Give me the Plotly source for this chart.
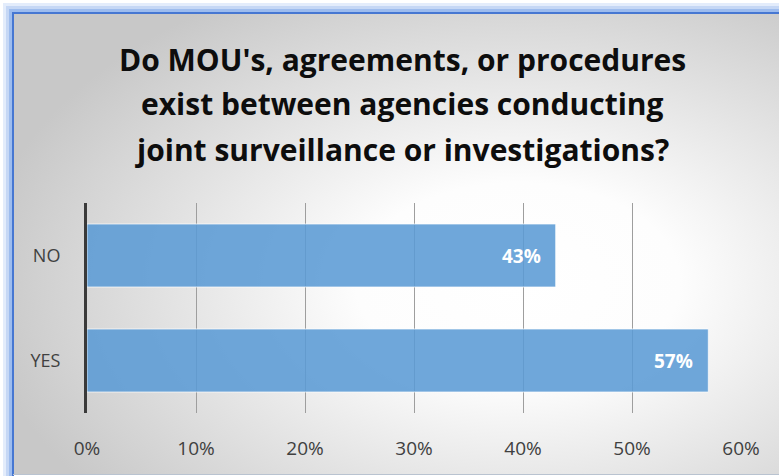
import base64
import plotly.graph_objects as go

categories = ["YES", "NO"]
values = [0.57, 0.43]
title_lines = ["Do MOU's, agreements, or procedures",
               "exist between agencies conducting",
               "joint surveillance or investigations?"]
tick_vals = [0, 0.1, 0.2, 0.3, 0.4, 0.5, 0.6]
tick_text = ["0%", "10%", "20%", "30%", "40%", "50%", "60%"]

W, H = 779, 476
L, R, T, B = 87, 38, 203, 63
PW, PH = W - L - R, H - T - B
EX = 6  # extra pixels so the background image fully covers the right edge
IW = W + EX

svg = f'''<svg xmlns="http://www.w3.org/2000/svg" width="{IW}" height="{H}" viewBox="0 0 {IW} {H}">
<defs>
<radialGradient id="g" gradientUnits="userSpaceOnUse" cx="518" cy="283" r="540" gradientTransform="translate(518 283) scale(1 0.62) translate(-518 -283)">
<stop offset="0" stop-color="#ffffff"/>
<stop offset="0.3" stop-color="#fdfdfd"/>
<stop offset="1" stop-color="#c8c8c8"/>
</radialGradient>
</defs>
<rect x="0" y="0" width="{IW}" height="{H}" fill="#ffffff"/>
<path d="M5 {H} V5 H{IW}" fill="none" stroke="#e3ecfb" stroke-width="4"/>
<path d="M8 {H} V8 H{IW}" fill="none" stroke="#c5d7f5" stroke-width="4"/>
<path d="M10.5 {H} V10.5 H{IW}" fill="none" stroke="#9dbcee" stroke-width="3"/>
<rect x="13" y="13" width="{IW-13}" height="{H-14}" fill="url(#g)"/>
<path d="M13 {H} V13 H{IW}" fill="none" stroke="#4677d2" stroke-width="2"/>
<line x1="13" y1="{H-1.5}" x2="{IW}" y2="{H-1.5}" stroke="#b9c3d0" stroke-width="1"/>
</svg>'''
src = "data:image/svg+xml;base64," + base64.b64encode(svg.encode()).decode()

fig = go.Figure()
fig.add_trace(go.Bar(
    x=values, y=categories, orientation="h", width=0.6,
    marker=dict(color="rgba(91,155,213,0.88)", line=dict(color="rgba(255,255,255,0.7)", width=1)),
    hoverinfo="skip",
))

for v, c in zip(values, categories):
    fig.add_annotation(x=v, y=c, xref="x", yref="y", text=f"<b>{round(v*100)}%</b>",
                       showarrow=False, xanchor="right", xshift=-13,
                       font=dict(family="Open Sans", size=19, color="white"))

title_y = [59, 104, 149]
for line, yp in zip(title_lines, title_y):
    fig.add_annotation(x=(402 - L) / PW, y=(H - B - yp) / PH, xref="paper", yref="paper",
                       text=f"<b>{line}</b>", showarrow=False, xanchor="center", yanchor="middle",
                       font=dict(family="Open Sans", size=30, color="#0d0d0d"))

fig.add_layout_image(dict(source=src, xref="paper", yref="paper",
                          x=-L / PW, y=1 + T / PH, sizex=IW / PW, sizey=H / PH,
                          xanchor="left", yanchor="top", sizing="stretch", layer="below"))

fig.update_layout(
    width=W, height=H, margin=dict(l=L, r=R, t=T, b=B, pad=0),
    paper_bgcolor="#cccccc", plot_bgcolor="rgba(0,0,0,0)",
    showlegend=False, bargap=0.4,
    font=dict(family="Open Sans", size=18, color="#404040"),
)
fig.update_xaxes(range=[0, 0.6], tickvals=tick_vals, ticktext=tick_text,
                 showgrid=True, gridcolor="#9e9e9e", gridwidth=1, zeroline=False,
                 showline=False, ticks="", ticklabelstandoff=22,
                 tickfont=dict(family="Open Sans", size=19, color="#404040"))
fig.update_yaxes(range=[-0.5, 1.5], showgrid=False, zeroline=False,
                 showline=True, linecolor="#3a3a3a", linewidth=3, ticks="",
                 ticklabelstandoff=20,
                 tickfont=dict(family="Open Sans", size=18, color="#404040"))

fig.write_html("out.html", config={"displayModeBar": False},
               post_script="document.body.style.margin='0';document.body.style.overflow='hidden';")
